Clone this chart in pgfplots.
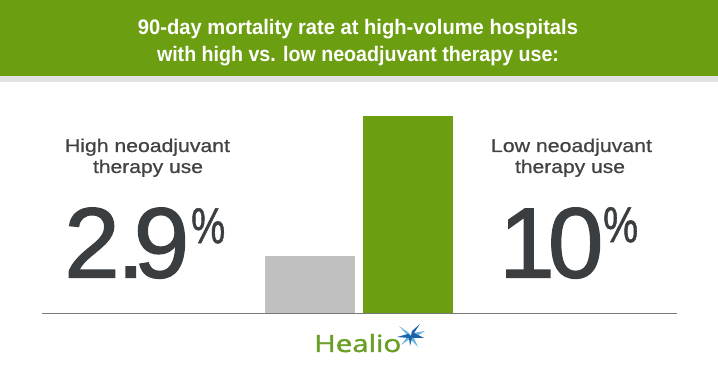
\documentclass[border=0pt]{standalone}
\usepackage{pgfplots}
\pgfplotsset{compat=1.18}
\usepackage{fontspec}
\setmainfont{Liberation Sans}
\newfontfamily\logofont{Open Sans}
\usepackage{graphicx}
\definecolor{hgreen}{RGB}{108,158,18}
\definecolor{hgray}{RGB}{192,192,192}
\definecolor{dark}{RGB}{58,62,65}
\definecolor{lab}{RGB}{66,66,66}
\definecolor{sblue}{RGB}{28,98,168}
\definecolor{lblue}{RGB}{110,180,225}
\definecolor{lgreen}{RGB}{106,158,36}
\newcommand\thick[2]{\special{pdf:literal direct 2 Tr #1 w}#2\special{pdf:literal direct 0 Tr}}
\begin{document}
\begin{tikzpicture}
\fill[white] (0,0) rectangle (718bp,377bp);
\begin{scope}[shift={(0,377bp)},x=1bp,y=-1bp]
\fill[hgreen] (0,0) rectangle (718,76);
\fill[gray!22] (0,76) rectangle (718,82);
\node[anchor=base, white, inner sep=0] at (358,35) {\resizebox{440bp}{\height}{\fontsize{21bp}{25bp}\selectfont\bfseries 90-day mortality rate at high-volume hospitals}};
\node[anchor=base, white, inner sep=0] at (358,62) {\resizebox{402bp}{\height}{\fontsize{21bp}{25bp}\selectfont\bfseries with high vs. low neoadjuvant therapy use:}};
% labels
\node[anchor=base, lab, inner sep=0] at (147.5,152) {\resizebox{165bp}{\height}{\fontsize{18.5bp}{22bp}\selectfont\thick{0.12}{High neoadjuvant}}};
\node[anchor=base, lab, inner sep=0] at (148,173) {\resizebox{110bp}{\height}{\fontsize{18.5bp}{22bp}\selectfont\thick{0.12}{therapy use}}};
\node[anchor=base, lab, inner sep=0] at (571.5,152) {\resizebox{161bp}{\height}{\fontsize{18.5bp}{22bp}\selectfont\thick{0.12}{Low neoadjuvant}}};
\node[anchor=base, lab, inner sep=0] at (570,173) {\resizebox{110bp}{\height}{\fontsize{18.5bp}{22bp}\selectfont\thick{0.12}{therapy use}}};
% big numbers
\node[anchor=base west, dark, inner sep=0] at (64,277.5) {\fontsize{100bp}{100bp}\selectfont\thick{1.3}{2\kern-3bp.\kern-11bp9}};
\node[anchor=north west, dark, inner sep=0] at (191,208) {\resizebox{34bp}{35bp}{\fontsize{48bp}{48bp}\selectfont\thick{0.5}{\%}}};
\node[anchor=base west, dark, inner sep=0] at (499,277.5) {\fontsize{100bp}{100bp}\selectfont\thick{1.3}{1\kern-7bp0}};
\node[anchor=north west, dark, inner sep=0] at (603,207) {\resizebox{35bp}{35bp}{\fontsize{48bp}{48bp}\selectfont\thick{0.5}{\%}}};
\end{scope}
\begin{axis}[at={(0,0)}, anchor=south west, width=718bp, height=377bp, scale only axis,
  xmin=-3.16327, xmax=4.16327, ymin=-3.2487, ymax=15.8883, hide axis,
  ybar, bar width=0.9184]
\addplot[fill=hgray, draw=none, bar shift=0pt] coordinates {(0,2.9)};
\addplot[fill=hgreen, draw=none, bar shift=0pt] coordinates {(1,10)};
\end{axis}
\begin{scope}[shift={(0,377bp)},x=1bp,y=-1bp]
\draw[line width=1.3bp, color=gray!95!black] (42,313.5) -- (677,313.5);
\node[anchor=base west, lgreen, inner sep=0] at (314,352) {\resizebox{87bp}{18bp}{\fontsize{23bp}{26bp}\selectfont\logofont\thick{0.35}{Healio}}};
% star logo
\fill[lblue] (411,336) -- (413,333) -- (425,331) -- (414,338) -- (418,347) -- (410,339) -- (401,345) -- (408,336) -- (399,326) -- (409,333) -- cycle;
\fill[sblue] (411,336) -- (412,331) -- (420,324) -- (414,333) -- (424,338) -- (412,338) -- (410,346) -- (409,338) -- (397,337) -- (408,334) -- cycle;
\end{scope}
\end{tikzpicture}
\end{document}
